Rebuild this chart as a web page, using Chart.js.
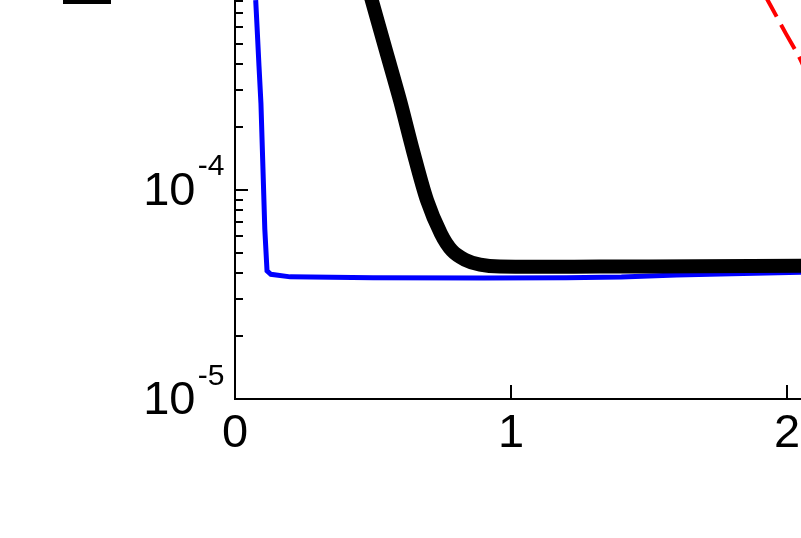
<!DOCTYPE html>
<html>
<head>
<meta charset="utf-8">
<script src="https://cdn.jsdelivr.net/npm/chart.js@4.4.1/dist/chart.umd.min.js"></script>
<style>
  html, body { margin: 0; padding: 0; background: #fff; overflow: hidden; }
  canvas { display: block; }
</style>
</head>
<body>
<canvas id="c" width="801" height="538"></canvas>
<script>
// ---- data ----
const blueX  = [0.075, 0.080, 0.087, 0.094, 0.101, 0.108, 0.116, 0.13, 0.2, 0.5, 0.9, 1.2, 1.4, 1.6, 1.8, 2.06];
const blueY  = [8.1e-4, 6.0e-4, 3.9e-4, 2.6e-4, 1.3e-4, 6.5e-5, 4.1e-5, 3.95e-5, 3.84e-5, 3.80e-5, 3.79e-5, 3.80e-5, 3.83e-5, 3.92e-5, 3.97e-5, 4.04e-5];

const blackX = [0.471, 0.496, 0.547, 0.598, 0.645, 0.696, 0.746, 0.786, 0.833, 0.888, 0.960, 1.32, 1.68, 2.06];
const blackY = [1.06e-3, 8.05e-4, 4.64e-4, 2.68e-4, 1.54e-4, 8.9e-5, 6.18e-5, 5.13e-5, 4.64e-5, 4.39e-5, 4.30e-5, 4.30e-5, 4.32e-5, 4.34e-5];

const redX   = [1.90, 1.931, 1.996, 2.047, 2.083];
const redY   = [9.5e-4, 8.05e-4, 5.6e-4, 4.25e-4, 3.33e-4];

const xTicks      = [0, 1, 2];
const xTickLabels = ['0', '1', '2'];
const yMajor      = [1e-5, 1e-4];
const yBase       = ['10', '10'];
const yExp        = ['-5', '-4'];

const xMin = 0, xMax = 2.0507;
const yMin = 1e-5, yMax = 8.11e-4;

function pts(xs, ys) { return xs.map((x, i) => ({ x: x, y: ys[i] })); }

const FONT = "'Liberation Sans', Arial, Helvetica, sans-serif";

const decor = {
  id: 'decor',
  afterDatasetsDraw(chart) {
    const ctx = chart.ctx, xs = chart.scales.x, ys = chart.scales.y, a = chart.chartArea;
    ctx.save();
    ctx.strokeStyle = '#000';
    ctx.fillStyle = '#000';
    ctx.lineWidth = 2;
    // axes
    ctx.beginPath();
    ctx.moveTo(a.left, a.top);
    ctx.lineTo(a.left, a.bottom);
    ctx.lineTo(a.right, a.bottom);
    ctx.stroke();
    // y ticks (inward), major + minor
    ctx.beginPath();
    for (let d = -5; d <= -3; d++) {
      for (let m = 1; m <= 9; m++) {
        const v = m * Math.pow(10, d);
        if (v < yMin * 0.999 || v > yMax) continue;
        const py = Math.round(ys.getPixelForValue(v));
        const len = (m === 1) ? 13 : 8;
        ctx.moveTo(a.left, py);
        ctx.lineTo(a.left + len, py);
      }
    }
    // x ticks (inward)
    xTicks.forEach(t => {
      if (t === 0) return;
      const px = Math.round(xs.getPixelForValue(t));
      ctx.moveTo(px, a.bottom);
      ctx.lineTo(px, a.bottom - 14);
    });
    ctx.stroke();

    // x labels
    ctx.font = '47px ' + FONT;
    ctx.textAlign = 'center';
    ctx.textBaseline = 'alphabetic';
    xTicks.forEach((t, i) => {
      ctx.fillText(xTickLabels[i], xs.getPixelForValue(t), 446.5);
    });
    // y labels with superscripts
    yMajor.forEach((v, i) => {
      const py = ys.getPixelForValue(v);
      ctx.font = '47px ' + FONT;
      ctx.textAlign = 'right';
      ctx.fillText(yBase[i], 195.5, py + 15);
      ctx.font = '30px ' + FONT;
      ctx.fillText(yExp[i], 224.5, py - 14.5);
    });
    // fragment of a label cut by the top edge
    ctx.fillRect(63, 0, 48, 4);
    ctx.restore();
  }
};

new Chart(document.getElementById('c'), {
  type: 'line',
  data: {
    datasets: [
      {
        data: pts(blackX, blackY),
        borderColor: '#000', backgroundColor: '#000',
        borderWidth: 14, pointRadius: 0, tension: 0.3, clip: false
      },
      {
        data: pts(blueX, blueY),
        borderColor: '#0000ff', backgroundColor: '#0000ff',
        borderWidth: 5, pointRadius: 0, tension: 0, clip: false
      },
      {
        data: pts(redX, redY),
        borderColor: '#ff0000', backgroundColor: '#ff0000',
        borderWidth: 4, pointRadius: 0, tension: 0.2, clip: false,
        borderDash: [28, 9], borderDashOffset: 29.5
      }
    ]
  },
  options: {
    responsive: false,
    devicePixelRatio: 1,
    animation: false,
    layout: { padding: 0 },
    plugins: { legend: { display: false }, tooltip: { enabled: false } },
    scales: {
      x: {
        type: 'linear', min: xMin, max: xMax,
        grid: { display: false }, border: { display: false },
        ticks: { display: false },
        afterFit(s) { s.height = 139; }
      },
      y: {
        type: 'logarithmic', min: yMin, max: yMax,
        grid: { display: false }, border: { display: false },
        ticks: { display: false },
        afterFit(s) { s.width = 235; }
      }
    }
  },
  plugins: [decor]
});
</script>
</body>
</html>
